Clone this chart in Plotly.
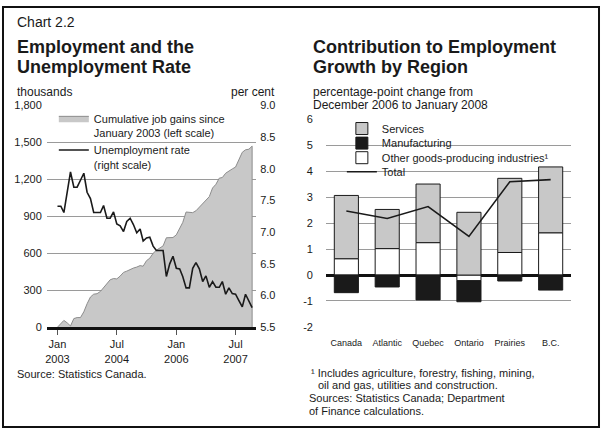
import plotly.graph_objects as go
import pandas as pd

FONT = "Liberation Sans, Arial, Helvetica, sans-serif"
TXT = "#1a1a1a"

# ---------------- Left chart data ----------------
months = pd.date_range("2003-01-01", periods=60, freq="MS")
job_gains = [
    0, 25, 55, 35, 10, 70, 78, 78, 125, 190, 245, 268,
    272, 290, 320, 355, 385, 395, 392, 415, 445, 455, 470, 480,
    488, 500, 495, 540, 560, 600, 625, 640, 660, 726, 726, 728,
    750, 800, 850, 935, 932, 930, 945, 975, 1000, 1030, 1060, 1130,
    1160, 1210, 1215, 1250, 1270, 1285, 1300, 1360, 1420, 1440, 1445, 1470,
]
unemployment = [
    7.41, 7.41, 7.31, 7.63, 7.95, 7.71, 7.71, 7.82, 7.93, 7.63, 7.53, 7.31,
    7.31, 7.31, 7.42, 7.22, 7.22, 7.32, 7.13, 7.10, 7.01, 7.17, 7.22, 7.12,
    6.99, 7.05, 6.86, 6.91, 6.92, 6.78, 6.71, 6.71, 6.71, 6.30, 6.50, 6.62,
    6.43, 6.42, 6.30, 6.12, 6.12, 6.43, 6.52, 6.42, 6.22, 6.31, 6.13, 6.22,
    6.13, 6.13, 6.22, 6.02, 6.12, 6.03, 6.02, 5.92, 5.82, 6.02, 5.92, 5.81,
]
left_tickvals = [0, 300, 600, 900, 1200, 1500, 1800]
left_ticktext = ["0", "300", "600", "900", "1,200", "1,500", "1,800"]
rate_tickvals = [5.5, 6.0, 6.5, 7.0, 7.5, 8.0, 8.5, 9.0]
date_tickvals = ["2003-01-01", "2004-07-01", "2006-01-01", "2007-07-01"]
date_ticktext = ["Jan<br>2003", "Jul<br>2004", "Jan<br>2006", "Jul<br>2007"]

# ---------------- Right chart data ----------------
regions = ["Canada", "Atlantic", "Quebec", "Ontario", "Prairies", "B.C."]
services = [2.44, 1.51, 2.26, 2.42, 2.86, 2.54]
manufacturing = [-0.68, -0.46, -0.96, -0.81, -0.23, -0.58]
other_goods = [0.63, 1.02, 1.25, -0.22, 0.87, 1.63]
total = [2.47, 2.18, 2.64, 1.49, 3.60, 3.68]
right_tickvals = [-2, -1, 0, 1, 2, 3, 4, 5, 6]
right_ticktext = ["-2", "-1", "0", "1", "2", "3", "4", "5", "6"]

W, H = 601, 435


def px(x):
    return x / W


def py(y):
    return 1 - y / H


fig = go.Figure()

# area (append a closing point so the right edge is outlined)
fig.add_trace(go.Scatter(
    x=list(months) + [months[-1]], y=job_gains + [0],
    fill="tozeroy", fillcolor="#c8c8c8", mode="lines",
    line=dict(color="#8c8c8c", width=1),
    name="Cumulative job gains since<br>January 2003 (left scale)",
    xaxis="x", yaxis="y", legend="legend", hoverinfo="skip",
))
fig.add_trace(go.Scatter(
    x=months, y=unemployment, mode="lines",
    line=dict(color="#1a1a1a", width=1.6),
    name="Unemployment rate<br>(right scale)",
    xaxis="x", yaxis="y2", legend="legend",
))

# right chart bars (stack order: other goods, manufacturing, services)
fig.add_trace(go.Bar(
    x=regions, y=other_goods, name="Other goods-producing industries¹",
    marker=dict(color="#ffffff", line=dict(color="#1a1a1a", width=1)),
    xaxis="x2", yaxis="y3", legend="legend4",
))
fig.add_trace(go.Bar(
    x=regions, y=manufacturing, name="Manufacturing",
    marker=dict(color="#1a1a1a", line=dict(color="#1a1a1a", width=1)),
    xaxis="x2", yaxis="y3", legend="legend3",
))
fig.add_trace(go.Bar(
    x=regions, y=services, name="Services",
    marker=dict(color="#c8c8c8", line=dict(color="#1a1a1a", width=1)),
    xaxis="x2", yaxis="y3", legend="legend2",
))
fig.add_trace(go.Scatter(
    x=regions, y=total, mode="lines", name="Total",
    line=dict(color="#1a1a1a", width=1.6),
    xaxis="x2", yaxis="y3", legend="legend5",
))

axis_font = dict(family=FONT, size=11, color=TXT)
leg_font = dict(family=FONT, size=11, color=TXT)


def single_legend(yc):
    return dict(
        x=px(341), y=py(yc), xanchor="left", yanchor="middle",
        bgcolor="rgba(0,0,0,0)", borderwidth=0, font=leg_font, itemwidth=30,
    )


fig.update_layout(
    width=W, height=H,
    margin=dict(l=0, r=0, t=0, b=0),
    paper_bgcolor="white", plot_bgcolor="white",
    font=dict(family=FONT, color=TXT),
    barmode="relative", bargap=0.41,
    showlegend=True,
    xaxis=dict(
        domain=[px(45), px(255)], anchor="y", type="date",
        range=["2002-09-25", "2008-01-07"],
        tickvals=date_tickvals, ticktext=date_ticktext,
        ticks="outside", ticklen=5, tickcolor="#555", tickwidth=1,
        showline=True, linecolor="#111", linewidth=3,
        showgrid=False, zeroline=False, tickfont=axis_font,
    ),
    yaxis=dict(
        domain=[py(330.3), py(102.3)], anchor="x",
        range=[0, 1800], tickvals=left_tickvals, ticktext=left_ticktext,
        showgrid=True, gridcolor="#9a9a9a", gridwidth=1,
        zeroline=False, ticks="", tickfont=axis_font, ticklabelstandoff=4,
    ),
    yaxis2=dict(
        overlaying="y", side="right", anchor="x",
        range=[5.5, 9.0], tickvals=rate_tickvals, tickformat=".1f",
        showgrid=False, zeroline=False, ticks="", tickfont=axis_font,
        ticklabelstandoff=3,
    ),
    xaxis2=dict(
        domain=[px(325), px(571)], anchor="y3", type="category",
        showgrid=False, zeroline=False, ticks="",
        tickfont=dict(family=FONT, size=9, color=TXT), ticklabelstandoff=9,
    ),
    yaxis3=dict(
        domain=[py(330), py(116.7)], anchor="x2",
        range=[-2, 6], tickvals=right_tickvals, ticktext=right_ticktext,
        showgrid=True, gridcolor="#9a9a9a", gridwidth=1,
        zeroline=True, zerolinecolor="#111", zerolinewidth=3,
        ticks="", tickfont=axis_font, ticklabelstandoff=12,
    ),
    legend=dict(
        x=px(52), y=py(101.5), xanchor="left", yanchor="top",
        bgcolor="rgba(0,0,0,0)", borderwidth=0, font=leg_font,
        itemwidth=30, valign="top",
    ),
    legend2=single_legend(126),
    legend3=single_legend(141),
    legend4=single_legend(156),
    legend5=single_legend(170.5),
)

annotations = [
    ("Chart 2.2", 13, 16, 14, False),
    ("<b>Employment and the</b>", 13, 42, 18, False),
    ("<b>Unemployment Rate</b>", 13, 63, 18, False),
    ("<b>Contribution to Employment</b>", 310, 42, 18, False),
    ("<b>Growth by Region</b>", 310, 63, 18, False),
    ("thousands", 13, 88, 12, False),
    ("per cent", 276, 88, 12, True),
    ("percentage-point change from", 310, 88, 12, False),
    ("December 2006 to January 2008", 310, 102, 12, False),
    ("Source: Statistics Canada.", 13, 378, 11, False),
    ("¹ Includes agriculture, forestry, fishing, mining,", 308, 377, 11, False),
    ("oil and gas, utilities and construction.", 315, 390, 11, False),
    ("Sources: Statistics Canada; Department", 306, 403, 11, False),
    ("of Finance calculations.", 306, 417, 11, False),
]
for text, x, y, size, right in annotations:
    fig.add_annotation(
        text=text, x=px(x), y=py(y), xref="paper", yref="paper",
        xanchor="right" if right else "left", yanchor="middle",
        showarrow=False, font=dict(family=FONT, size=size, color=TXT),
    )

# white backing behind the legend texts (hides gridlines, sits under data)
fig.add_shape(type="rect", xref="paper", yref="paper", layer="between",
              x0=px(62), x1=px(153), y0=py(146), y1=py(137),
              line=dict(width=0), fillcolor="white")
fig.add_shape(type="rect", xref="paper", yref="paper", layer="between",
              x0=px(342), x1=px(571), y0=py(178), y1=py(120),
              line=dict(width=0), fillcolor="white")

# outer frame
fig.add_shape(type="rect", xref="paper", yref="paper",
              x0=px(1), x1=px(599), y0=py(433), y1=py(1),
              line=dict(color="#111", width=2), fillcolor="rgba(0,0,0,0)")

fig.write_html(
    "out.html",
    config={"displayModeBar": False},
    post_script="document.body.style.margin='0';",
)
